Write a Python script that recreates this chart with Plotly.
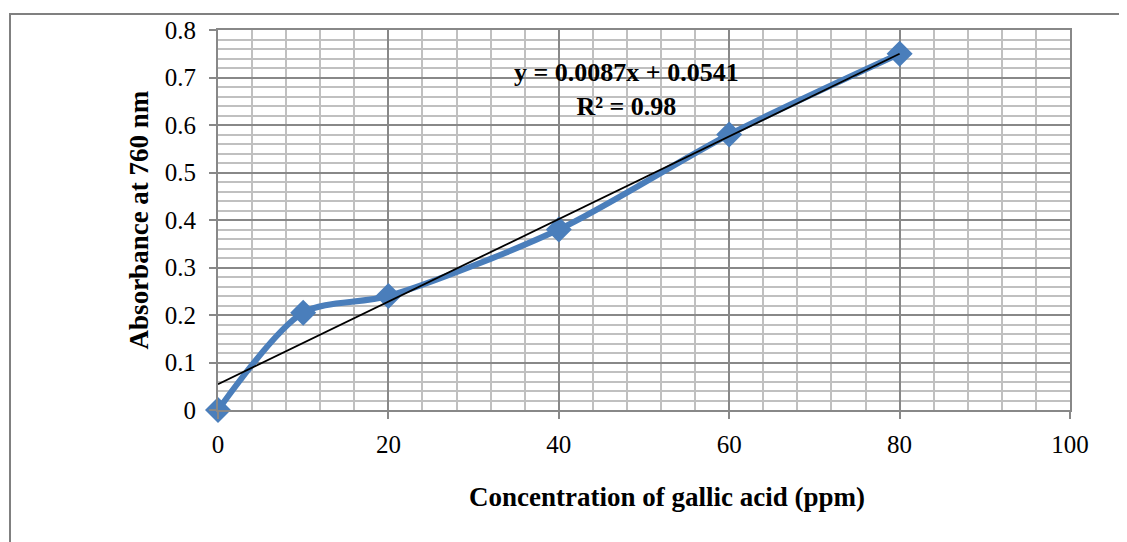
import plotly.graph_objects as go

conc = [0, 10, 20, 40, 60, 80]
absorb = [0, 0.205, 0.24, 0.38, 0.58, 0.75]
slope = 0.0087
intercept = 0.0541
trend_x = [0, 80]
trend_y = [slope * x + intercept for x in trend_x]

font_family = "Liberation Serif, Times New Roman, serif"

fig = go.Figure()
fig.add_trace(go.Scatter(
    x=conc, y=absorb, mode="lines+markers", cliponaxis=False,
    line=dict(color="#4a7ebb", width=6, shape="spline", smoothing=0.8),
    marker=dict(symbol="diamond", size=20, color="#4a7ebb"),
    showlegend=False, hoverinfo="skip"))
fig.add_trace(go.Scatter(
    x=trend_x, y=trend_y, mode="lines",
    line=dict(color="black", width=1.8),
    showlegend=False, hoverinfo="skip"))

fig.add_annotation(x=(626 - 218) / 852, y=(542 - 132 - 56) / 380, xref="paper", yref="paper",
                   text="<b>y = 0.0087x + 0.0541</b><br><b>R² = 0.98</b>",
                   showarrow=False, align="center",
                   font=dict(family=font_family, size=26, color="black"),
                   xanchor="center", yanchor="top")

# x-axis title (offset to the right of plot centre, as in the original)
fig.add_annotation(x=(667 - 218) / 852, y=(410 - 497) / 380, xref="paper", yref="paper",
                   text="<b>Concentration of gallic acid (ppm)</b>",
                   showarrow=False, xanchor="center", yanchor="middle",
                   font=dict(family=font_family, size=27, color="black"))

common = dict(showgrid=True, gridcolor="#888888", gridwidth=2,
              showline=True, linecolor="#888888", linewidth=2, mirror=True,
              ticks="outside", ticklen=7, tickcolor="#888888", tickwidth=2,
              zeroline=False, automargin=False)

fig.update_xaxes(range=[0, 100], dtick=20, tick0=0,
                 minor=dict(dtick=4, showgrid=True, gridcolor="#c0c0c0", gridwidth=2),
                 tickfont=dict(family=font_family, size=25, color="black"),
                 ticklabelstandoff=4,
                 **common)
fig.update_yaxes(range=[0, 0.8], dtick=0.1, tick0=0,
                 minor=dict(dtick=0.02, showgrid=True, gridcolor="#c0c0c0", gridwidth=2),
                 tickfont=dict(family=font_family, size=25, color="black"),
                 ticklabelstandoff=8,
                 title=dict(text="<b>Absorbance at 760 nm</b>",
                            font=dict(family=font_family, size=27, color="black"),
                            standoff=8),
                 **common)

fig.add_shape(type="rect", xref="paper", yref="paper",
              x0=-208 / 852, x1=(1140 - 218) / 852, y0=-140 / 380, y1=(410 - 14) / 380,
              line=dict(color="#808080", width=2), layer="below")

# page body has an 8px margin, so offset the figure margins accordingly
fig.update_layout(width=1127, height=542,
                  margin=dict(l=210, r=65, t=22, b=140),
                  paper_bgcolor="white", plot_bgcolor="white")

fig.write_html("out.html")
